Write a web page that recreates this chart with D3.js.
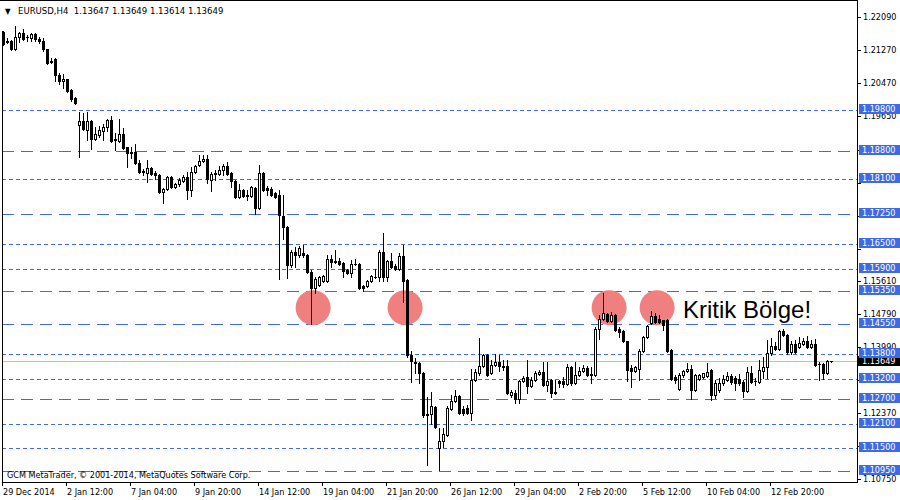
<!DOCTYPE html>
<html><head><meta charset="utf-8">
<script src="https://cdn.jsdelivr.net/npm/d3@7"></script>
<style>html,body{margin:0;padding:0;background:#fff}svg{display:block}</style>
</head><body><svg id="c" width="900" height="500"></svg>
<script>
const open=[1.2171,1.2149,1.2149,1.2129,1.2159,1.2169,1.2159,1.2156,1.2166,1.2154,1.2149,1.2129,1.2100,1.2104,1.2066,1.2051,1.2056,1.2029,1.2009,1.1943,
1.1953,1.1931,1.1953,1.1908,1.1918,1.1928,1.1938,1.1955,1.1908,1.1904,1.1921,1.1889,1.1877,1.1877,1.1850,1.1830,1.1825,1.1837,1.1825,1.1820,
1.1778,1.1785,1.1815,1.1790,1.1798,1.1805,1.1815,1.1783,1.1827,1.1844,1.1855,1.1860,1.1808,1.1825,1.1822,1.1832,1.1842,1.1825,1.1805,1.1766,
1.1783,1.1771,1.1769,1.1788,1.1739,1.1825,1.1788,1.1785,1.1776,1.1771,1.1720,1.1694,1.1600,1.1631,1.1624,1.1629,1.1624,1.1582,1.1543,1.1551,
1.1560,1.1560,1.1614,1.1609,1.1609,1.1605,1.1587,1.1580,1.1602,1.1602,1.1548,1.1548,1.1560,1.1570,1.1570,1.1631,1.1570,1.1609,1.1597,1.1590,
1.1622,1.1563,1.1379,1.1362,1.1359,1.1335,1.1234,1.1234,1.1251,1.1151,1.1168,1.1183,1.1246,1.1266,1.1278,1.1246,1.1249,1.1237,1.1318,1.1335,
1.1352,1.1379,1.1335,1.1354,1.1362,1.1352,1.1352,1.1280,1.1286,1.1271,1.1315,1.1325,1.1303,1.1318,1.1332,1.1337,1.1305,1.1318,1.1288,1.1315,
1.1315,1.1308,1.1349,1.1311,1.1330,1.1340,1.1347,1.1332,1.1330,1.1443,1.1467,1.1480,1.1462,1.1477,1.1443,1.1438,1.1413,1.1347,1.1340,1.1345,
1.1389,1.1423,1.1458,1.1475,1.1467,1.1464,1.1464,1.1391,1.1325,1.1296,1.1330,1.1340,1.1345,1.1293,1.1320,1.1325,1.1327,1.1342,1.1280,1.1293,
1.1311,1.1318,1.1327,1.1323,1.1320,1.1313,1.1291,1.1335,1.1315,1.1313,1.1340,1.1349,1.1384,1.1401,1.1394,1.1438,1.1428,1.1386,1.1406,1.1399,
1.1406,1.1413,1.1399,1.1406,1.1357,1.1357,1.1335,1.13647];
const high=[1.2173,1.2156,1.2151,1.2185,1.2171,1.2178,1.2164,1.2169,1.2169,1.2159,1.2156,1.2130,1.2107,1.2107,1.2071,1.2068,1.2057,1.2031,1.2011,1.1975,
1.1972,1.1975,1.1955,1.1938,1.1940,1.1945,1.1958,1.1965,1.1923,1.1958,1.1935,1.1889,1.1889,1.1896,1.1857,1.1835,1.1857,1.1839,1.1830,1.1822,
1.1788,1.1817,1.1817,1.1800,1.1812,1.1820,1.1827,1.1839,1.1844,1.1870,1.1870,1.1870,1.1827,1.1832,1.1842,1.1847,1.1852,1.1827,1.1808,1.1798,
1.1785,1.1783,1.1793,1.1790,1.1844,1.1827,1.1793,1.1790,1.1778,1.1783,1.1771,1.1695,1.1636,1.1644,1.1646,1.1649,1.1626,1.1587,1.1570,1.1573,
1.1575,1.1624,1.1624,1.1636,1.1617,1.1607,1.1590,1.1612,1.1614,1.1605,1.1551,1.1563,1.1575,1.1590,1.1636,1.1678,1.1612,1.1629,1.1602,1.1629,
1.1649,1.1565,1.1389,1.1372,1.1362,1.1337,1.1276,1.1288,1.1254,1.1200,1.1200,1.1254,1.1280,1.1293,1.1280,1.1254,1.1256,1.1345,1.1345,1.1421,
1.1381,1.1381,1.1367,1.1381,1.1379,1.1367,1.1367,1.1293,1.1293,1.1318,1.1327,1.1367,1.1325,1.1340,1.1342,1.1362,1.1362,1.1320,1.1318,1.1318,
1.1325,1.1357,1.1352,1.1362,1.1349,1.1354,1.1352,1.1349,1.1448,1.1477,1.1531,1.1482,1.1484,1.1480,1.1448,1.1440,1.1414,1.1354,1.1352,1.1394,
1.1426,1.1453,1.1487,1.1482,1.1477,1.1465,1.1467,1.1394,1.1330,1.1335,1.1342,1.1359,1.1354,1.1332,1.1332,1.1335,1.1359,1.1345,1.1318,1.1323,
1.1330,1.1337,1.1332,1.1327,1.1332,1.1318,1.1349,1.1352,1.1323,1.1367,1.1374,1.1416,1.1421,1.1411,1.1440,1.1443,1.1431,1.1413,1.1416,1.1423,
1.1421,1.1426,1.1416,1.1418,1.1362,1.1359,1.1367,1.13649];
const low=[1.2139,1.2144,1.2127,1.2127,1.2146,1.2151,1.2149,1.2149,1.2149,1.2144,1.2124,1.2092,1.2095,1.2051,1.2043,1.2033,1.2024,1.2002,1.1994,1.1865,
1.1931,1.1906,1.1884,1.1906,1.1913,1.1906,1.1928,1.1901,1.1882,1.1901,1.1884,1.1839,1.1862,1.1847,1.1825,1.1820,1.1803,1.1820,1.1810,1.1776,
1.1752,1.1783,1.1788,1.1788,1.1793,1.1803,1.1761,1.1769,1.1825,1.1842,1.1852,1.1800,1.1780,1.1808,1.1820,1.1820,1.1820,1.1790,1.1764,1.1764,
1.1766,1.1759,1.1766,1.1724,1.1737,1.1780,1.1771,1.1769,1.1764,1.1565,1.1663,1.1568,1.1595,1.1595,1.1619,1.1619,1.1580,1.1455,1.1531,1.1548,
1.1558,1.1558,1.1595,1.1605,1.1600,1.1570,1.1577,1.1570,1.1600,1.1541,1.1536,1.1546,1.1558,1.1568,1.1560,1.1560,1.1560,1.1592,1.1587,1.1587,
1.1509,1.1374,1.1313,1.1335,1.1311,1.1227,1.1109,1.1209,1.1200,1.1097,1.1153,1.1180,1.1244,1.1263,1.1234,1.1232,1.1234,1.1219,1.1315,1.1330,
1.1350,1.1327,1.1332,1.1352,1.1340,1.1342,1.1283,1.1276,1.1261,1.1261,1.1313,1.1286,1.1300,1.1315,1.1330,1.1303,1.1291,1.1276,1.1283,1.1300,
1.1300,1.1305,1.1305,1.1308,1.1327,1.1337,1.1327,1.1311,1.1327,1.1418,1.1465,1.1460,1.1460,1.1438,1.1423,1.1411,1.1315,1.1300,1.1337,1.1318,
1.1386,1.1421,1.1455,1.1458,1.1458,1.1440,1.1386,1.1318,1.1311,1.1293,1.1325,1.1337,1.1271,1.1291,1.1318,1.1323,1.1325,1.1268,1.1273,1.1288,
1.1305,1.1315,1.1308,1.1293,1.1305,1.1276,1.1288,1.1311,1.1305,1.1311,1.1323,1.1323,1.1379,1.1391,1.1391,1.1426,1.1381,1.1381,1.1384,1.1396,
1.1403,1.1396,1.1396,1.1352,1.1318,1.1320,1.1332,1.13614];
const close=[1.2141,1.2146,1.2129,1.2159,1.2169,1.2154,1.2158,1.2166,1.2154,1.2149,1.2129,1.2095,1.2099,1.2066,1.2051,1.2056,1.2027,1.2007,1.1997,1.1953,
1.1933,1.1953,1.1908,1.1921,1.1931,1.1938,1.1955,1.1904,1.1907,1.1921,1.1887,1.1875,1.1875,1.1850,1.1827,1.1827,1.1837,1.1822,1.1820,1.1778,
1.1785,1.1815,1.1790,1.1798,1.1808,1.1815,1.1783,1.1827,1.1842,1.1855,1.1860,1.1810,1.1822,1.1824,1.1832,1.1842,1.1822,1.1805,1.1766,1.1783,
1.1769,1.1770,1.1790,1.1739,1.1825,1.1783,1.1783,1.1771,1.1766,1.1722,1.1692,1.1600,1.1631,1.1624,1.1641,1.1624,1.1582,1.1543,1.1565,1.1570,
1.1573,1.1614,1.1607,1.1608,1.1602,1.1585,1.1580,1.1602,1.1601,1.1543,1.1543,1.1560,1.1573,1.1569,1.1631,1.1570,1.1609,1.1595,1.1590,1.1622,
1.1560,1.1379,1.1364,1.1359,1.1335,1.1232,1.1232,1.1254,1.1202,1.1168,1.1185,1.1249,1.1266,1.1278,1.1237,1.1237,1.1237,1.1318,1.1337,1.1352,
1.1379,1.1330,1.1354,1.1362,1.1352,1.1349,1.1286,1.1288,1.1271,1.1315,1.1323,1.1303,1.1318,1.1335,1.1337,1.1305,1.1315,1.1286,1.1286,1.1311,
1.1308,1.1349,1.1311,1.1330,1.1340,1.1347,1.1330,1.1330,1.1443,1.1467,1.1482,1.1462,1.1477,1.1440,1.1435,1.1413,1.1342,1.1340,1.1349,1.1389,
1.1423,1.1450,1.1475,1.1460,1.1460,1.1452,1.1389,1.1320,1.1318,1.1330,1.1340,1.1345,1.1293,1.1330,1.1330,1.1335,1.1337,1.1280,1.1311,1.1311,
1.1320,1.1327,1.1313,1.1311,1.1311,1.1291,1.1337,1.1313,1.1314,1.1342,1.1349,1.1384,1.1401,1.1394,1.1438,1.1428,1.1386,1.1406,1.1386,1.1408,
1.1413,1.1399,1.1406,1.1354,1.1356,1.1335,1.1364,1.13649];

const timeLabels=["29 Dec 2014","2 Jan 12:00","7 Jan 04:00","9 Jan 20:00","14 Jan 12:00","19 Jan 04:00","21 Jan 20:00","26 Jan 12:00","29 Jan 04:00","2 Feb 20:00","5 Feb 12:00","10 Feb 04:00","12 Feb 20:00"];
const timeLabelBars=[0,16,32,48,64,80,96,112,128,144,160,176,192];
const priceTicks=[1.22090,1.21270,1.20470,1.19650,1.18830,1.18010,1.17210,1.16390,1.15610,1.14790,1.13990,1.13170,1.12370,1.11550,1.10750];
const tickLabelShown=[1,1,1,1,0,0,0,0,1,1,1,0,1,0,1];
const levelPrices=[1.19800,1.18800,1.18100,1.17250,1.16500,1.15900,1.15350,1.14550,1.13800,1.13200,1.12700,1.12100,1.11500,1.10950];
const levelStyles=["dot","dash","dot","dash","dot","dot","dash","dash","dot","dot","dash","dot","dot","dash"];
const lastPrice=1.13649;
const zoneBars=[77.4,100.4,151.4,163.4];
const zonePrice=1.1496;
const titleText="EURUSD,H4  1.13647 1.13649 1.13614 1.13649";
const noteText="Kritik Bölge!";
const copyText="GCM MetaTrader, © 2001-2014, MetaQuotes Software Corp.";

const BLUE="#4169E1";
const FONT="'DejaVu Sans Condensed','DejaVu Sans',sans-serif";
const svg=d3.select("#c");
svg.append("rect").attr("width",900).attr("height",500).attr("fill","#fff");

const bars=open.map((o,i)=>({i,o,h:high[i],l:low[i],c:close[i]}));
const x=d3.scaleLinear().domain([0,207]).range([3.5,831.5]);
const y=d3.scaleLinear().domain([1.198,1.1095]).range([110.5,471]);
const row=p=>Math.floor(y(p));
const col=i=>Math.round(x(i)-0.5);

// levels
const lv=svg.append("g");
lv.selectAll("line").data(levelPrices).join("line")
 .attr("x1",2).attr("x2",857).attr("y1",p=>row(p)+0.5).attr("y2",p=>row(p)+0.5)
 .attr("stroke",BLUE).attr("stroke-width",1)
 .attr("stroke-dasharray",(p,i)=>levelStyles[i]==="dot"?"4,3":"12,7");
// current price line
svg.append("line").attr("x1",2).attr("x2",857).attr("y1",row(lastPrice)+0.5).attr("y2",row(lastPrice)+0.5)
 .attr("stroke","#c0c0c0").attr("stroke-width",1);

// zones
svg.append("g").selectAll("circle").data(zoneBars).join("circle")
 .attr("cx",b=>x(b)).attr("cy",y(zonePrice)).attr("r",17.5).attr("fill","#F08080");

// candles
const cg=svg.append("g");
cg.selectAll("rect.w").data(bars).join("rect").attr("class","w")
 .attr("x",d=>col(d.i)).attr("y",d=>row(d.h)).attr("width",1)
 .attr("height",d=>row(d.l)-row(d.h)+1).attr("fill","#000");
bars.forEach(d=>{
  const bt=row(Math.max(d.o,d.c)), bb=row(Math.min(d.o,d.c)), c0=col(d.i);
  if(d.c<d.o || bb-bt<2){
    cg.append("rect").attr("x",c0-1).attr("y",bt).attr("width",3).attr("height",bb-bt+1).attr("fill","#000");
  } else {
    cg.append("rect").attr("x",c0-0.5).attr("y",bt+0.5).attr("width",2).attr("height",bb-bt)
      .attr("fill","#fff").attr("stroke","#000").attr("stroke-width",1);
  }
});

// frame
svg.append("line").attr("x1",2.5).attr("x2",2.5).attr("y1",31).attr("y2",483).attr("stroke","#000");
svg.append("line").attr("x1",857.5).attr("x2",857.5).attr("y1",0).attr("y2",483).attr("stroke","#000");
svg.append("line").attr("x1",2).attr("x2",858).attr("y1",482.5).attr("y2",482.5).attr("stroke","#000");
svg.append("line").attr("x1",0).attr("x2",858).attr("y1",0.5).attr("y2",0.5).attr("stroke","#000");

// right axis ticks
const ax=svg.append("g").attr("font-family",FONT).attr("font-size","9px").attr("font-stretch","condensed");
ax.selectAll("line").data(priceTicks).join("line")
 .attr("x1",858).attr("x2",861).attr("y1",p=>row(p)+0.5).attr("y2",p=>row(p)+0.5).attr("stroke","#000");
ax.selectAll("text").data(priceTicks.filter((p,i)=>tickLabelShown[i])).join("text")
 .attr("x",863).attr("y",p=>row(p)+3).attr("fill","#000").text(p=>p.toFixed(5));

// current price label
svg.append("rect").attr("x",858).attr("y",row(lastPrice)-5).attr("width",42).attr("height",10).attr("fill","#000");
svg.append("text").attr("x",862).attr("y",row(lastPrice)+3).attr("fill","#fff").attr("font-family",FONT).attr("font-size","9px").attr("font-stretch","condensed").text(lastPrice.toFixed(5));

// level labels
const lb=svg.append("g").attr("font-family",FONT).attr("font-size","9px").attr("font-stretch","condensed");
levelPrices.forEach(p=>{
  lb.append("rect").attr("x",859).attr("y",row(p)-6).attr("width",41).attr("height",10).attr("fill",BLUE);
  lb.append("text").attr("x",862).attr("y",row(p)+2).attr("fill","#fff").text(p.toFixed(5));
});

// bottom axis
const bx=svg.append("g").attr("font-family",FONT).attr("font-size","9px").attr("font-stretch","condensed");
bx.selectAll("line").data(timeLabelBars).join("line")
 .attr("x1",b=>col(b)+0.5-1).attr("x2",b=>col(b)+0.5-1).attr("y1",483).attr("y2",486).attr("stroke","#000");
bx.selectAll("text").data(timeLabels).join("text")
 .attr("x",(t,i)=>col(timeLabelBars[i])).attr("y",495).attr("fill","#000").text(t=>t);

// title
svg.append("text").attr("x",5).attr("y",14).attr("font-family",FONT).attr("font-size","8px").text("▼");
svg.append("text").attr("x",18).attr("y",14).attr("font-family",FONT).attr("font-size","9.5px").attr("font-stretch","condensed").style("white-space","pre").text(titleText);

// copyright
svg.append("text").attr("x",7).attr("y",478).attr("font-family",FONT).attr("font-size","9px").attr("font-stretch","condensed").text(copyText);

// note
svg.append("text").attr("x",683).attr("y",318).attr("font-family","'Liberation Sans',Arial,sans-serif").attr("font-size","24px").attr("fill","#000").text(noteText);
</script></body></html>
